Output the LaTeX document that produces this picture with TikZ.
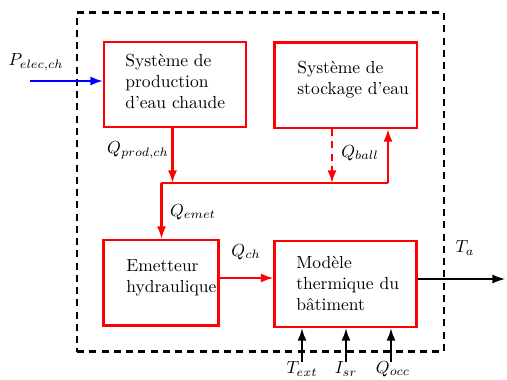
\documentclass[tikz,border=0pt]{standalone}
\usetikzlibrary{arrows.meta,fit}
\begin{document}
\begin{tikzpicture}[x=0.5714pt,y=-0.5714pt,
  box/.style={draw=red,line width=1.2pt,inner sep=0pt,fit={#1}},
  txt/.style={anchor=west,align=left,inner sep=0pt,font=\fontsize{10}{12}\selectfont},
  lab/.style={inner sep=0pt},
  tip/.style={-{Latex[length=7.2pt,width=5.2pt]}},
  rarr/.style={tip,draw=red,fill=red,line width=1.2pt},
  barr/.style={tip,draw=black,line width=1.2pt},
]
\useasboundingbox (0,0) rectangle (507,380);
% outer dashed frame
\node[draw,line width=1.2pt,dash pattern=on 4pt off 3pt,inner sep=0pt,fit={(77,12.5) (444,351.5)}] (frame) {};
% boxes
\node[box={(104,42) (246,127)}] (b1) {};
\node[box={(274.5,42.5) (417,128)}] (b2) {};
\node[box={(103.5,240) (218.5,325.5)}] (b3) {};
\node[box={(274.5,241) (416.5,327)}] (b4) {};
% box texts
\node[txt] (t1) at (125,81) {Système de\\production\\d'eau chaude};
\node[txt] (t2) at (297,80) {Système de\\stockage d'eau};
\node[txt] (t3) at (126,277.5) {Emetteur\\hydraulique};
\node[txt] (t4) at (296,283) {Modèle\\thermique du\\bâtiment};
% coordinates
\coordinate (pin) at (30,81);
\coordinate (jp) at (172.5,183);
\coordinate (jL) at (161.5,183);
\coordinate (jR) at (388,183);
\coordinate (jb) at (332,183);
\coordinate (qch) at (0,278);
\coordinate (ta) at (505,279);
\coordinate (i1) at (302,362);
\coordinate (i2) at (346,362);
\coordinate (i3) at (391,362);
% connectors
\draw[tip,draw=blue,fill=blue,line width=1.2pt] (pin) -- (pin -| b1.west);
\draw[rarr] (jp |- b1.south) -- (jp);
\draw[line width=1.2pt,draw=red] (jL) -- (jR);
\draw[rarr] (jR) -- (jR |- b2.south);
\draw[rarr,dash pattern=on 4pt off 3pt] (jb |- b2.south) -- (jb);
\draw[rarr] (jL) -- (jL |- b3.north);
\draw[rarr] (b3.east |- qch) -- (b4.west |- qch);
\draw[tip,line width=0.8pt] (b4.east |- ta) -- (ta);
\draw[barr] (i1) -- (i1 |- b4.south);
\draw[barr] (i2) -- (i2 |- b4.south);
\draw[barr] (i3) -- (i3 |- b4.south);
% labels
\node[lab] (lp) at (36,62) {$P_{elec,ch}$};
\node[lab] (lq1) at (138,150) {$Q_{prod,ch}$};
\node[lab] (lq2) at (360,153) {$Q_{ball}$};
\node[lab] (lq3) at (193,212) {$Q_{emet}$};
\node[lab] (lq4) at (246,252) {$Q_{ch}$};
\node[lab] (lta) at (465,248) {$T_a$};
\node[lab] (l1) at (302,369) {$T_{ext}$};
\node[lab] (l2) at (346,369) {$I_{sr}$};
\node[lab] (l3) at (393,369) {$Q_{occ}$};
\end{tikzpicture}
\end{document}
